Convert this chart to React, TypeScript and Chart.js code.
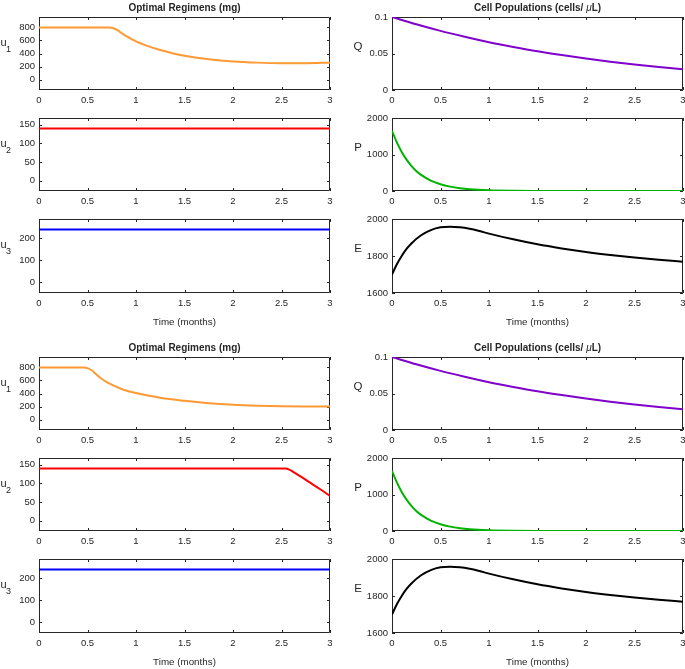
import React, { useEffect, useRef } from 'react';
import { Chart, registerables } from 'chart.js';

Chart.register(...registerables);

const FONT = '"Liberation Sans", Arial, sans-serif';
const AXIS_COLOR = '#262626';

// ---- tick values ----
const timeTicks = [0, 0.5, 1, 1.5, 2, 2.5, 3];
const u1Ticks = [0, 200, 400, 600, 800];
const u2Ticks = [0, 50, 100, 150];
const u3Ticks = [0, 100, 200];
const qTicks = [0, 0.05, 0.1];
const pTicks = [0, 1000, 2000];
const eTicks = [1600, 1800, 2000];

// ---- scenario A (top half) ----
const tU1A = [0, 0.72, 0.76, 0.8, 0.85, 0.9, 1.0, 1.1, 1.25, 1.5, 1.75, 2.0, 2.25, 2.5, 2.75, 3.0];
const u1A = [800, 800, 792, 765, 715, 665, 585, 525, 455, 365, 312, 278, 260, 252, 252, 260];
const tFlat = [0, 3];
const u2A = [140, 140];
const u3A = [240, 240];

// ---- scenario B (bottom half) ----
const tU1B = [0, 0.46, 0.5, 0.54, 0.6, 0.67, 0.75, 0.85, 1.0, 1.25, 1.5, 1.75, 2.0, 2.25, 2.5, 2.75, 3.0];
const u1B = [800, 800, 790, 760, 680, 600, 535, 470, 408, 335, 287, 250, 226, 212, 203, 200, 200];
const tU2B = [0, 2.54, 2.58, 2.62, 2.7, 2.8, 2.9, 3.0];
const u2B = [140, 140, 137, 131, 118, 101, 84, 66];
const u3B = [240, 240];

// ---- cell populations ----
const tQ = [0, 0.25, 0.5, 0.75, 1, 1.25, 1.5, 1.75, 2, 2.25, 2.5, 2.75, 3];
const qVals = [0.1, 0.09, 0.081, 0.073, 0.0655, 0.059, 0.053, 0.0478, 0.043, 0.0388, 0.035, 0.0315, 0.0284];
const tP = [0, 0.05, 0.1, 0.15, 0.2, 0.25, 0.3, 0.4, 0.5, 0.6, 0.7, 0.8, 1.0, 1.25, 1.5, 2.0, 2.5, 3.0];
const pVals = [1650, 1330, 1070, 860, 690, 550, 440, 285, 185, 120, 78, 50, 22, 8, 3, 1, 0, 0];
const tE = [0, 0.05, 0.1, 0.15, 0.2, 0.3, 0.4, 0.5, 0.6, 0.7, 0.8, 0.9, 1.0, 1.25, 1.5, 1.75, 2.0, 2.25, 2.5, 2.75, 3.0];
const eVals = [1700, 1755, 1800, 1838, 1868, 1912, 1940, 1955, 1958, 1955, 1947, 1935, 1921, 1890, 1863, 1841, 1822, 1806, 1792, 1780, 1769];

const leftTitle = 'Optimal Regimens (mg)';
const rightTitleA = 'Cell Populations (cells/ ';
const rightTitleMu = 'μ';
const rightTitleB = 'L)';
const xTitleText = 'Time (months)';

interface Panel {
  id: string;
  col: number;
  row: number;
  half: number;
  xs: number[];
  ys: number[];
  color: string;
  yMin: number;
  yMax: number;
  yTicks: number[];
  label: string;
  sub?: string;
}

const COL_LEFT = [39, 392];
const COL_RIGHT = [330, 683];
const ROW_TOP = [17, 118, 219];
const ROW_H = [73, 73, 74];
const HALF_OFFSET = 340;

const ORANGE = '#FF9933';
const RED = '#FF0000';
const BLUE = '#0000FF';
const PURPLE = '#8000CC';
const GREEN = '#00B300';
const BLACK = '#000000';

const panels: Panel[] = [];
[0, 1].forEach((half) => {
  panels.push(
    { id: `u1-${half}`, col: 0, row: 0, half, xs: half ? tU1B : tU1A, ys: half ? u1B : u1A, color: ORANGE, yMin: -160, yMax: 960, yTicks: u1Ticks, label: 'u', sub: '1' },
    { id: `u2-${half}`, col: 0, row: 1, half, xs: half ? tU2B : tFlat, ys: half ? u2B : u2A, color: RED, yMin: -28, yMax: 168, yTicks: u2Ticks, label: 'u', sub: '2' },
    { id: `u3-${half}`, col: 0, row: 2, half, xs: tFlat, ys: half ? u3B : u3A, color: BLUE, yMin: -48, yMax: 288, yTicks: u3Ticks, label: 'u', sub: '3' },
    { id: `q-${half}`, col: 1, row: 0, half, xs: tQ, ys: qVals, color: PURPLE, yMin: 0, yMax: 0.1, yTicks: qTicks, label: 'Q' },
    { id: `p-${half}`, col: 1, row: 1, half, xs: tP, ys: pVals, color: GREEN, yMin: 0, yMax: 2000, yTicks: pTicks, label: 'P' },
    { id: `e-${half}`, col: 1, row: 2, half, xs: tE, ys: eVals, color: BLACK, yMin: 1600, yMax: 2000, yTicks: eTicks, label: 'E' },
  );
});

function PanelChart({ p }: { p: Panel }) {
  const ref = useRef<HTMLCanvasElement>(null);
  const plotL = COL_LEFT[p.col];
  const plotR = COL_RIGHT[p.col];
  const plotT = ROW_TOP[p.row] + p.half * HALF_OFFSET;
  const plotH = ROW_H[p.row];
  const L = p.col === 0 ? 39 : 50;
  const R = 12;
  const T = 17;
  const B = p.row === 2 ? 38 : 26;
  const cw = L + (plotR - plotL) + R;
  const ch = T + plotH + B;

  useEffect(() => {
    const decor = {
      id: 'decor',
      beforeDatasetsDraw(chart: any) {
        const ctx = chart.ctx as CanvasRenderingContext2D;
        const a = chart.chartArea;
        const xs = chart.scales.x;
        const ys = chart.scales.y;
        ctx.save();
        ctx.strokeStyle = AXIS_COLOR;
        ctx.lineWidth = 1;
        ctx.beginPath();
        ctx.rect(a.left + 0.5, a.top + 0.5, a.right - a.left - 1, a.bottom - a.top - 1);
        ctx.stroke();
        const tl = 3;
        ctx.beginPath();
        timeTicks.forEach((v) => {
          const px = Math.round(xs.getPixelForValue(v)) + 0.5;
          ctx.moveTo(px, a.bottom);
          ctx.lineTo(px, a.bottom - tl);
          ctx.moveTo(px, a.top);
          ctx.lineTo(px, a.top + tl);
        });
        p.yTicks.forEach((v) => {
          const py = Math.round(ys.getPixelForValue(v)) + 0.5;
          ctx.moveTo(a.left, py);
          ctx.lineTo(a.left + tl, py);
          ctx.moveTo(a.right, py);
          ctx.lineTo(a.right - tl, py);
        });
        ctx.stroke();
        ctx.restore();
      },
      afterDraw(chart: any) {
        const ctx = chart.ctx as CanvasRenderingContext2D;
        const a = chart.chartArea;
        ctx.save();
        ctx.fillStyle = AXIS_COLOR;
        ctx.textAlign = 'center';
        ctx.textBaseline = 'middle';
        const cy = (a.top + a.bottom) / 2;
        const cx = (a.left + a.right) / 2;
        if (p.col === 0) {
          ctx.font = `11px ${FONT}`;
          ctx.fillText(p.label, a.left - 35.5, cy - 11);
          ctx.font = `9px ${FONT}`;
          ctx.fillText(p.sub || '', a.left - 30.5, cy - 4);
        } else {
          ctx.font = `11.5px ${FONT}`;
          ctx.fillText(p.label, a.left - 34, cy - 7);
        }
        if (p.row === 0) {
          const ty = a.top - 8.5;
          const fb = `bold 10px ${FONT}`;
          if (p.col === 0) {
            ctx.font = fb;
            ctx.fillText(leftTitle, cx, ty);
          } else {
            const fi = `italic 10px ${FONT}`;
            ctx.font = fb;
            const w1 = ctx.measureText(rightTitleA).width;
            const w3 = ctx.measureText(rightTitleB).width;
            ctx.font = fi;
            const w2 = ctx.measureText(rightTitleMu).width;
            let x0 = cx - (w1 + w2 + w3) / 2;
            ctx.textAlign = 'left';
            ctx.font = fb;
            ctx.fillText(rightTitleA, x0, ty);
            x0 += w1;
            ctx.font = fi;
            ctx.fillText(rightTitleMu, x0, ty);
            x0 += w2;
            ctx.font = fb;
            ctx.fillText(rightTitleB, x0, ty);
            ctx.textAlign = 'center';
          }
        }
        if (p.row === 2) {
          ctx.font = `9.8px ${FONT}`;
          ctx.fillText(xTitleText, cx, a.bottom + 29);
        }
        ctx.restore();
      },
    };

    const tickFont = { family: FONT, size: 9.5 };
    const chart = new Chart(ref.current as HTMLCanvasElement, {
      type: 'line',
      data: {
        datasets: [
          {
            data: p.xs.map((x, i) => ({ x, y: p.ys[i] })),
            borderColor: p.color,
            borderWidth: 2,
            pointRadius: 0,
            cubicInterpolationMode: 'monotone',
            fill: false,
          },
        ],
      },
      options: {
        animation: false,
        responsive: false,
        events: [],
        layout: { padding: { left: 0, top: T, right: R, bottom: 0 } },
        plugins: { legend: { display: false }, tooltip: { enabled: false }, title: { display: false } },
        scales: {
          x: {
            type: 'linear',
            min: 0,
            max: 3,
            grid: { display: false, drawTicks: false },
            border: { display: false },
            ticks: {
              autoSkip: false,
              maxRotation: 0,
              padding: 5,
              color: AXIS_COLOR,
              font: tickFont,
              callback: (v: any) => String(v),
            },
            afterBuildTicks: (s: any) => {
              s.ticks = timeTicks.map((v) => ({ value: v }));
            },
            afterFit: (s: any) => {
              s.height = B;
              s.paddingLeft = 0;
              s.paddingRight = 0;
            },
          },
          y: {
            type: 'linear',
            min: p.yMin,
            max: p.yMax,
            grid: { display: false, drawTicks: false },
            border: { display: false },
            ticks: {
              autoSkip: false,
              padding: 4,
              color: AXIS_COLOR,
              font: tickFont,
              callback: (v: any) => String(v),
            },
            afterBuildTicks: (s: any) => {
              s.ticks = p.yTicks.map((v) => ({ value: v }));
            },
            afterFit: (s: any) => {
              s.width = L;
              s.paddingTop = 0;
              s.paddingBottom = 0;
            },
          },
        },
      } as any,
      plugins: [decor],
    });
    return () => chart.destroy();
  }, []);

  return (
    <canvas
      ref={ref}
      width={cw}
      height={ch}
      style={{ position: 'absolute', left: plotL - L, top: plotT - T, width: cw, height: ch }}
    />
  );
}

export default function App() {
  return (
    <div
      style={{
        position: 'absolute',
        left: 0,
        top: 0,
        width: 685,
        height: 669,
        overflow: 'hidden',
        background: '#ffffff',
      }}
    >
      {panels.map((p) => (
        <PanelChart key={p.id} p={p} />
      ))}
    </div>
  );
}
